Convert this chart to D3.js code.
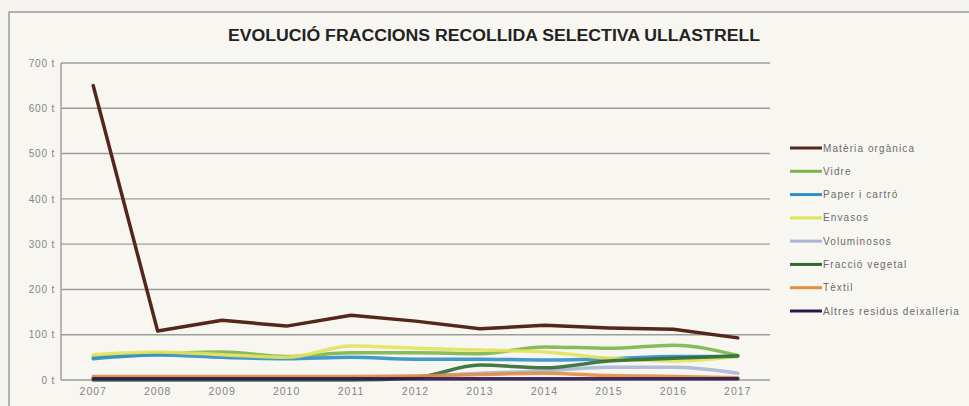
<!DOCTYPE html>
<html>
<head>
<meta charset="utf-8">
<script src="https://cdn.jsdelivr.net/npm/d3@7"></script>
<style>
  html, body { margin: 0; padding: 0; background: #f6f4ee; }
  svg { display: block; }
</style>
</head>
<body>
<svg id="chart" width="969" height="406"></svg>
<script>
// Recollida selectiva a Ullastrell, tones per any i fracció
const years = ["2007","2008","2009","2010","2011","2012","2013","2014","2015","2016","2017"];
const yTicks = [0, 100, 200, 300, 400, 500, 600, 700];

const materiaOrganica = [650, 108, 132, 119, 143, 130, 113, 121, 115, 112, 93];
const vidre           = [50, 58, 62, 52, 60, 60, 58, 73, 70, 77, 54];
const paperCartro     = [47, 55, 50, 47, 50, 46, 46, 44, 47, 52, 52];
const envasos         = [56, 62, 56, 50, 75, 70, 66, 62, 48, 42, 52];
const voluminosos     = [5, 5, 5, 5, 5, 8, 15, 20, 28, 28, 15];
const fraccioVegetal  = [0, 0, 0, 0, 0, 5, 33, 27, 42, 48, 53];
const textil          = [8, 8, 8, 8, 8, 9, 12, 15, 10, 8, 5];
const altres          = [3, 3, 3, 3, 3, 3, 3, 3, 3, 3, 3];

const seriesNames  = ["Matèria orgànica","Vidre","Paper i cartró","Envasos","Voluminosos","Fracció vegetal","Tèxtil","Altres residus deixalleria"];
const seriesValues = [materiaOrganica, vidre, paperCartro, envasos, voluminosos, fraccioVegetal, textil, altres];
const seriesColors = ["#55261a","#7cb44a","#2f8ec8","#e2e35c","#a9b7d6","#2f6a35","#e38d40","#2b1852"];

const svg = d3.select("#chart");
const W = 969, H = 406;
const plot = { left: 61, right: 770, top: 63, bottom: 380 };
const FONT = "Liberation Sans, Arial, sans-serif";

// outer chart frame
svg.append("rect")
  .attr("x", 9).attr("y", 12)
  .attr("width", W + 10).attr("height", H + 10)
  .attr("fill", "#f8f6f1")
  .attr("stroke", "#9a9a9a").attr("stroke-width", 1.5);

const x = d3.scaleBand().domain(years).range([plot.left, plot.right]);
const y = d3.scaleLinear().domain([0, 700]).range([plot.bottom, plot.top]);

// horizontal gridlines
svg.append("g")
  .selectAll("line").data(yTicks).join("line")
  .attr("x1", plot.left).attr("x2", plot.right)
  .attr("y1", d => y(d)).attr("y2", d => y(d))
  .attr("stroke", "#9c9c9c").attr("stroke-width", 1.4);

// vertical axis line
svg.append("line")
  .attr("x1", plot.left).attr("x2", plot.left)
  .attr("y1", plot.top).attr("y2", plot.bottom)
  .attr("stroke", "#9c9c9c").attr("stroke-width", 1.4);

// y axis
const yAxis = d3.axisLeft(y).tickValues(yTicks).tickSize(0).tickPadding(6)
  .tickFormat(d => d + " t");
const gy = svg.append("g").attr("transform", `translate(${plot.left},0)`).call(yAxis);
gy.select(".domain").remove();
gy.selectAll("text")
  .attr("font-family", FONT)
  .attr("font-size", 10).attr("letter-spacing", 0.8).attr("fill", "#858585");

// x axis
const xAxis = d3.axisBottom(x).tickSize(0).tickPadding(8);
const gx = svg.append("g").attr("transform", `translate(0,${plot.bottom})`).call(xAxis);
gx.select(".domain").remove();
gx.selectAll("text")
  .attr("font-family", FONT)
  .attr("font-size", 10.5).attr("letter-spacing", 1).attr("fill", "#858585");

// series lines: the organic fraction is drawn straight, the rest smoothed
const xPos = (d, i) => x(years[i]) + x.bandwidth() / 2;
const straight = d3.line().x(xPos).y(d => y(d)).curve(d3.curveLinear);
const smooth = d3.line().x(xPos).y(d => y(d)).curve(d3.curveMonotoneX);

svg.append("g")
  .selectAll("path").data(d3.range(seriesValues.length)).join("path")
  .attr("d", i => (i === 0 ? straight : smooth)(seriesValues[i]))
  .attr("fill", "none")
  .attr("stroke", i => seriesColors[i])
  .attr("stroke-width", 3.5)
  .attr("stroke-linejoin", "round")
  .attr("stroke-linecap", "round")
  .attr("opacity", i => i === 0 ? 1 : 0.9);

// title
svg.append("text")
  .attr("x", 494).attr("y", 41)
  .attr("text-anchor", "middle")
  .attr("font-family", FONT)
  .attr("font-weight", "bold")
  .attr("font-size", 16)
  .attr("fill", "#222")
  .attr("textLength", 532)
  .attr("lengthAdjust", "spacingAndGlyphs")
  .text("EVOLUCIÓ FRACCIONS RECOLLIDA SELECTIVA ULLASTRELL");

// legend
const legendY = d3.scalePoint().domain(seriesNames).range([148, 311]);
const lg = svg.append("g")
  .selectAll("g").data(seriesNames).join("g")
  .attr("transform", d => `translate(790,${legendY(d)})`);
lg.append("line")
  .attr("x1", 0).attr("x2", 32)
  .attr("stroke", (d, i) => seriesColors[i])
  .attr("stroke-width", 3);
lg.append("text")
  .attr("x", 33).attr("y", 3.5)
  .attr("font-family", FONT)
  .attr("font-size", 10)
  .attr("letter-spacing", 1.1)
  .attr("fill", "#6a6a6a")
  .text(d => d);
</script>
</body>
</html>
